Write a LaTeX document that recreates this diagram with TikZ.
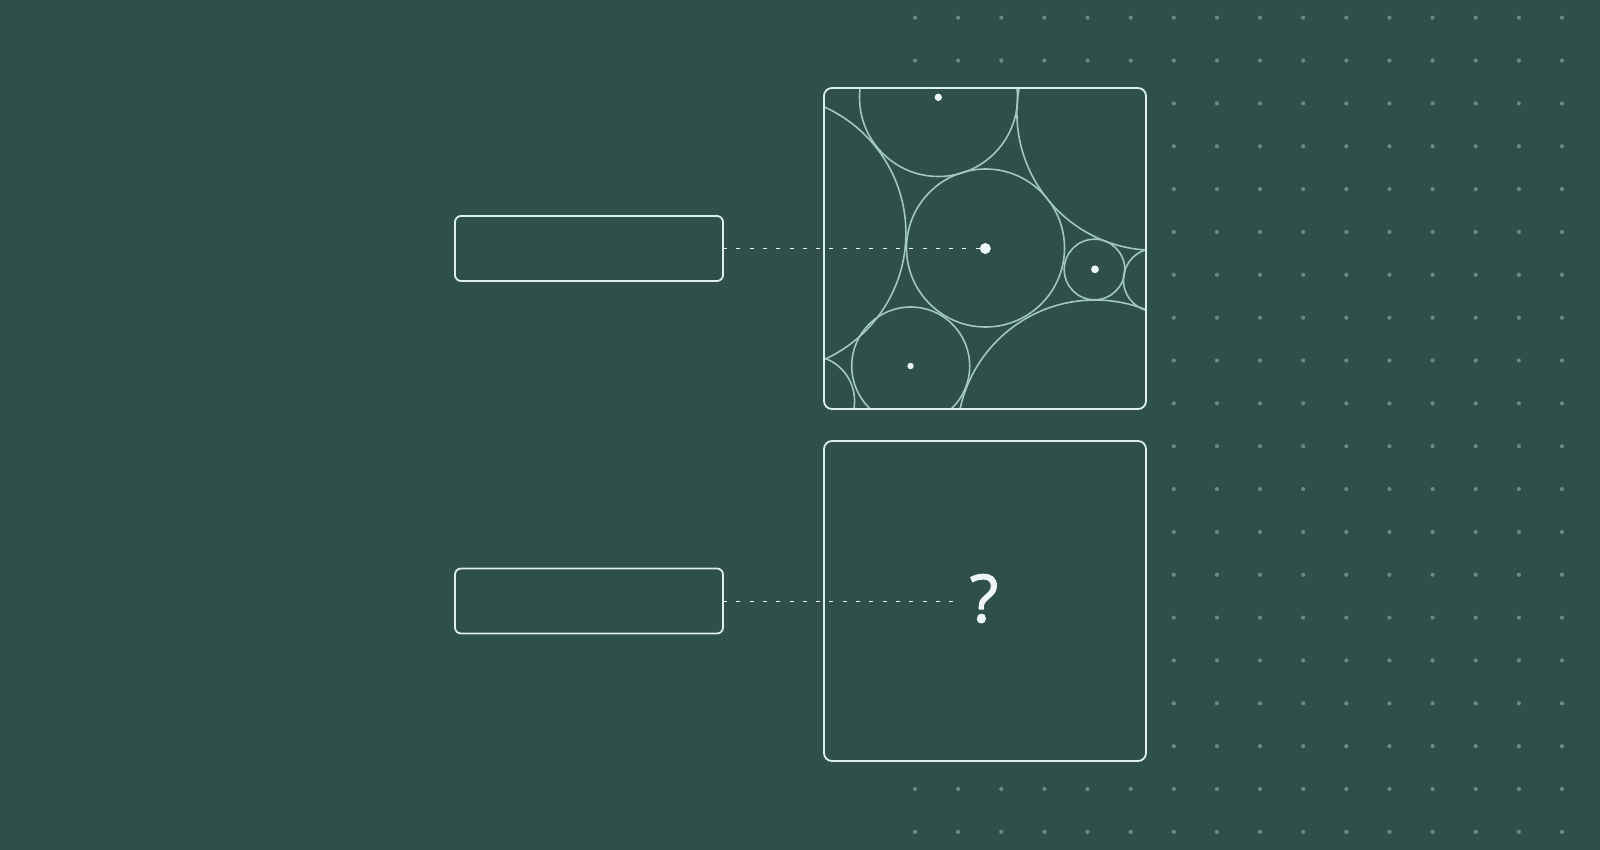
\documentclass[tikz,border=0pt]{standalone}
\usepackage{fontspec}
\setmainfont{Open Sans}
\newfontfamily\qfont[FakeBold=1.6]{Open Sans}
\definecolor{bg}{HTML}{2E4F4A}
\definecolor{griddotc}{HTML}{6A8A85}
\definecolor{panelc}{HTML}{DCEFEA}
\definecolor{ringc}{HTML}{A2C8C2}
\definecolor{markc}{HTML}{EEF7F5}
\tikzset{
  panel/.style={draw=panelc, line width=1.8pt, fill=bg, rounded corners=8pt, inner sep=0pt, outer sep=0pt},
  labelbox/.style={draw=panelc, line width=1.8pt, fill=bg, rounded corners=6pt, inner sep=0pt, outer sep=0pt, minimum width=268pt, minimum height=65pt},
  ring/.style={draw=ringc, line width=1.6pt},
  marker/.style={fill=markc},
  link/.style={draw=markc, line width=1.6pt, dash pattern=on 4pt off 9.3pt},
  griddot/.style={fill=griddotc}
}
\begin{document}
\begin{tikzpicture}[x=1pt,y=-1pt]
\fill[bg] (0,0) rectangle (1600,850);
\useasboundingbox (0,0) rectangle (1600,850);
% dot grid
\foreach \j in {0,...,15}{
  \foreach \k in {0,...,19}{
    \fill[griddot] ({915+43.13*\j},{17.7+42.85*\k}) circle (2.1);
  }
}
% panels
\node[panel, minimum width=322pt, minimum height=321pt] (toppanel) at (985,248.5) {};
\node[panel, minimum width=322pt, minimum height=320pt] (botpanel) at (985,601) {};
% label boxes
\node[labelbox] (box1) at (589,248.5) {};
\node[labelbox] (box2) at (589,601) {};
% circle packing
\begin{scope}
  \clip[rounded corners=7pt] (825,89) rectangle (1145,408);
  \draw[ring] (767.5,233.2) circle (138.4);
  \draw[ring] (938.5,97.5) circle (79);
  \draw[ring] (985.5,248) circle (79);
  \draw[ring] (910.7,366) circle (59);
  \draw[ring] (1094.5,269.5) circle (30.3);
  \draw[ring] (1154.6,112.6) circle (137.7);
  \draw[ring] (1095,438) circle (138);
  \draw[ring] (1155,280) circle (31.6);
  \draw[ring] (809,401) circle (45.6);
\end{scope}
% centre markers
\coordinate (m3) at (985.3,248.5);
\fill[marker] (m3) circle (5.5);
\fill[marker] (938.3,97.3) circle (3.7);
\fill[marker] (1095,269.3) circle (3.9);
\fill[marker] (910.5,366) circle (3.2);
% question mark
\node[text=markc, inner sep=0pt, anchor=base, font=\qfont\fontsize{66}{66}\selectfont] (qmark) at (984,622) {?};
\coordinate (qend) at (957,601.5);
% connectors
\draw[link] (box1.east) -- (m3);
\draw[link] (box2.east |- qend) -- (qend);
\end{tikzpicture}
\end{document}
